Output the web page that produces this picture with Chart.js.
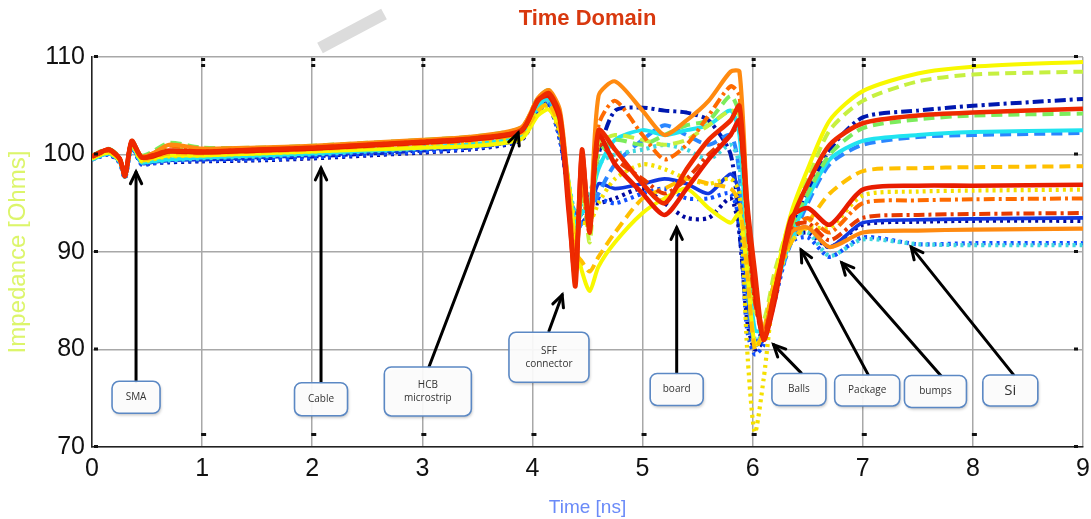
<!DOCTYPE html>
<html>
<head>
<meta charset="utf-8">
<script src="https://cdn.jsdelivr.net/npm/chart.js@4.4.1/dist/chart.umd.min.js"></script>
<style>
html,body{margin:0;padding:0;background:#fff;}
#wrap{width:1091px;height:519px;position:relative;}
</style>
</head>
<body>
<div id="wrap"><canvas id="c" width="1091" height="519"></canvas></div>
<script>
// ---- Data ----
const timeNs = [0,0.15,0.25,0.3,0.36,0.45,0.55,0.7,1.0,1.5,2.0,2.5,3.0,3.5,3.9,4.05,4.15,4.25,4.33,4.39,4.45,4.52,4.6,4.75,5.0,5.2,5.4,5.6,5.8,5.88,5.95,6.02,6.1,6.2,6.35,6.5,6.7,7.0,7.5,8.0,9.0];
const xTicks = [0,1,2,3,4,5,6,7,8,9];
const yTicks = [70,80,90,100,110];

const redSolidA = [99.8,100.5,99.6,97.8,101.4,99.7,99.9,100.4,100.3,100.5,100.7,101.0,101.3,101.7,102.5, 105.5,106.3,104,95,86.5,100.5,92, 102.5,100.5,97,95,98.5,101.5,103.5, 105,95,88,81,86, 93,97,101,103.2,104,104.3,104.7];
const redSolidB = [99.8,100.5,99.6,97.8,101.3,99.7,99.8,100.3,100.2,100.4,100.6,100.9,101.2,101.6,102.4, 105.6,106.0,103.5,94,87.5,100,92.5, 102,99,96,93.8,96.5,99.5,102, 103.5,94,86,81,85, 93.5,94.5,92.8,96.4,96.8,96.8,96.9];
const redDashDot = [99.8,100.4,99.6,97.8,101.3,99.7,99.9,100.3,100.3,100.5,100.7,101.0,101.3,101.7,102.5, 105.5,106.2,103.8,95,88,99,93, 101,99.5,97.5,96,97.5,100,102, 103,93,85,81.5,86, 92.5,93,91.2,93.5,93.8,93.9,94.0];
const orangeSolid = [99.8,100.5,99.6,97.9,101.3,99.8,100.1,101.0,100.6,100.7,100.9,101.2,101.5,101.9,102.8, 105.8,106.6,104.5,96,88,98,93, 106,107.5,104.5,102,103.5,105.5,108.5, 108.5,95,86,82,86, 92,92.5,90.5,92,92.2,92.3,92.4];
const orangeDashDot = [99.8,100.5,99.6,97.9,101.3,99.8,100.1,100.9,100.5,100.6,100.8,101.1,101.4,101.8,102.7, 105.7,106.5,104,95,88,97,92, 103,105.5,102,99.5,101,104,107, 106,94,85,82,86, 92,93.5,92,95,95.3,95.4,95.5];
const goldDashed = [99.7,100.3,99.5,97.9,101.2,99.5,99.7,100.1,100.1,100.3,100.5,100.8,101.1,101.5,102.2, 104.5,105.2,102.5,96,90,89,88, 89.5,92,95.5,96.5,97.5,97,96.5, 95,88,80,82,87, 91,93,96,98.3,98.6,98.7,98.8];
const yellowSolid = [99.6,100.2,99.4,97.9,101.1,99.4,99.6,99.9,99.9,100.1,100.3,100.5,100.7,100.9,101.6, 104.0,104.6,102.5,97,91,88,86, 88.5,91,94,95.5,96.5,94.5,93, 94,88,80.5,81.5,87, 94,98.5,103.5,106.5,108.3,109,109.5];
const yellowDotted = [99.6,100.2,99.4,97.8,101.0,99.3,99.5,99.8,99.9,100.1,100.3,100.6,100.9,101.3,102.0, 104.3,105,102,97,93,93,93, 95,97.5,99,98.5,97.5,97,97.5, 96,80,71.5,77,86, 91,92.5,92.5,95.8,96.2,96.3,96.4];
const limeDashed = [99.8,100.5,99.6,97.9,101.3,99.7,100.0,100.8,100.5,100.6,100.8,101.1,101.4,101.8,102.6, 105.5,106.3,103.5,95,89,97,91, 101,102,101.5,101,101.5,103,104.5, 104,92,84,83,88, 93.5,97.5,102.5,105.5,107.5,108.2,108.5];
const greenDashed = [99.9,100.6,99.7,97.9,101.4,99.9,100.3,101.2,100.7,100.7,100.9,101.2,101.5,101.9,102.8, 105.8,106.6,104,96,90,96,93, 100,101.5,101,102,103,103.5,106, 104,93,85,82,87, 92.5,96,100,102.7,103.6,104,104.2];
const cyanSolid = [99.5,100.1,99.3,97.7,100.9,99.2,99.3,99.5,99.7,99.9,100.1,100.4,100.7,101.1,101.9, 105,105.8,103,97,93,94,95, 98.5,101.5,102.5,102,102.5,103,104.5, 102,90,82,82,86, 91.5,95.5,99.5,101.4,102,102.3,102.5];
const cyanDotted = [99.5,100.1,99.3,97.7,100.9,99.2,99.3,99.4,99.6,99.8,100.0,100.3,100.6,101.0,101.8, 104.7,105.4,102.5,97,94,95,96, 99,100,100.5,101,100.5,99.5,101, 99,88,81,81.5,86, 91.5,92,89.6,91.3,90.8,90.7,90.7];
const blueDashed = [99.6,100.2,99.4,97.8,101.0,99.3,99.4,99.7,99.8,100.0,100.2,100.5,100.8,101.2,102.0, 104.8,105.4,102.5,96,92,93,94, 96,99,101.5,103,102,101,102, 98,86,80.5,82,86, 91,95,99,101,101.8,102,102.2];
const blueSolid = [99.5,100.1,99.3,97.7,100.8,99.1,99.2,99.4,99.5,99.7,99.9,100.2,100.5,100.9,101.8, 104.6,105.2,102,96,92,93,94, 97,96.5,97,97.5,97,96,98, 96,86,80.5,81,86, 92,92.5,90.5,93,93.3,93.4,93.5];
const blueDotted = [99.5,100.0,99.2,97.6,100.8,99.0,99.1,99.3,99.4,99.5,99.7,100.0,100.3,100.7,101.6, 104.5,105,101.5,96,94,95,96, 95.5,95,96,96.5,95.5,95.5,96, 93,82,79.5,80.5,85, 91,91.5,89.5,91.5,90.8,90.9,90.9];
const navyDashDot = [99.6,100.1,99.3,97.8,100.9,99.2,99.3,99.6,99.5,99.6,99.8,100.1,100.4,100.8,101.7, 104.8,105.2,102,96,93,94,95, 100,104.5,104.8,104.5,104.3,103.5,100, 92,84,81,82,87, 92,96,100.5,103.8,104.5,105,105.7];
const navyDotted = [99.5,100.0,99.2,97.6,100.8,99.0,99.1,99.2,99.3,99.4,99.6,99.9,100.2,100.6,101.5, 104.5,105,101.5,96,93,94,95, 95,95.5,96.5,95,93.5,93.5,95.5, 92,83,80,81,86, 91.5,92,90.5,92.8,93.1,93.2,93.2];

// Annotation labels (data coordinates: box centre, arrow start, arrow tip)
const labelTexts = ["SMA","Cable","HCB\nmicrostrip","SFF\nconnector","board","Balls","Package","bumps","Si"];
const labelBoxX = [0.40,2.08,3.05,4.15,5.31,6.42,7.04,7.66,8.34];
const labelBoxY = [75.1,74.9,75.7,79.2,75.9,75.9,75.8,75.7,75.8];
const arrowFromX = [0.40,2.08,3.06,4.15,5.31,6.44,7.05,7.71,8.37];
const arrowFromY = [76.7,76.7,78.2,81.9,77.6,77.6,77.4,77.3,77.4];
const arrowToX = [0.40,2.08,3.87,4.27,5.31,6.19,6.44,6.81,7.44];
const arrowToY = [98.2,98.6,102.2,85.6,92.5,80.5,90.2,88.9,90.5];

// ---- Styles ----
const DOT=[3,4], DASH=[11,6], DASHDOT=[11,4,3,4];
const seriesDefs = [
  ['redSolidA', redSolidA, '#ee2a00', null, 4.6, 0],
  ['redSolidB', redSolidB, '#e81c00', null, 4.6, 0],
  ['redDashDot', redDashDot, '#e83a00', DASHDOT, 4, 1],
  ['orangeSolid', orangeSolid, '#ff8a10', null, 4.2, 1],
  ['orangeDashDot', orangeDashDot, '#ff6a00', DASHDOT, 4, 1],
  ['goldDashed', goldDashed, '#ffc000', DASH, 4, 2],
  ['yellowSolid', yellowSolid, '#f8f800', null, 4, 2],
  ['yellowDotted', yellowDotted, '#f5e000', DOT, 4.2, 2],
  ['limeDashed', limeDashed, '#c6f040', DASH, 4, 3],
  ['greenDashed', greenDashed, '#7cec5c', DASH, 4, 3],
  ['cyanSolid', cyanSolid, '#20e4f0', null, 4, 3],
  ['cyanDotted', cyanDotted, '#40d8e0', DOT, 4.2, 3],
  ['blueDashed', blueDashed, '#2a86ff', DASH, 4, 4],
  ['blueSolid', blueSolid, '#1238e0', null, 3.6, 4],
  ['blueDotted', blueDotted, '#1050ff', DOT, 4.2, 4],
  ['navyDashDot', navyDashDot, '#0018b0', DASHDOT, 4, 4],
  ['navyDotted', navyDotted, '#0008a0', DOT, 4.2, 4]
];

const datasets = seriesDefs.map(([name, vals, color, dash, w, ord]) => ({
  label: name,
  data: timeNs.map((t,i)=>({x:t, y:vals[i]})),
  borderColor: color,
  borderWidth: w,
  borderDash: dash || [],
  pointRadius: 0,
  tension: 0.25,
  fill: false,
  order: ord,
  borderCapStyle: 'butt',
  borderJoinStyle: 'round'
}));

const decorPlugin = {
  id: 'decor',
  beforeDraw(chart){
    const ctx = chart.ctx;
    ctx.save();
    ctx.strokeStyle = '#dcdcdc';
    ctx.lineWidth = 12;
    ctx.beginPath();
    ctx.moveTo(320,48); ctx.lineTo(384,14);
    ctx.stroke();
    ctx.restore();
  },
  afterDraw(chart){
    const {ctx, chartArea, scales:{x,y}} = chart;
    ctx.save();
    ctx.fillStyle = '#111';
    xTicks.forEach(t=>{
      const px = x.getPixelForValue(t);
      if (t>0 && t<9){
        ctx.fillRect(px-1, chartArea.top+1, 4, 3);
        ctx.fillRect(px-1, chartArea.top+7, 4, 3);
        ctx.fillRect(px-1, chartArea.bottom-14, 5, 3);
      }
    });
    yTicks.forEach(v=>{
      const py = y.getPixelForValue(v);
      ctx.fillRect(chartArea.right-9, py-2, 4, 3);
      ctx.fillRect(chartArea.left+2, py-2, 4, 3);
    });
    labelTexts.forEach((txt,i)=>{
      const fx = x.getPixelForValue(arrowFromX[i]), fy = y.getPixelForValue(arrowFromY[i]);
      const tx = x.getPixelForValue(arrowToX[i]), ty = y.getPixelForValue(arrowToY[i]);
      ctx.strokeStyle = '#000';
      ctx.lineWidth = 3;
      ctx.lineCap = 'round';
      ctx.beginPath(); ctx.moveTo(fx,fy); ctx.lineTo(tx,ty); ctx.stroke();
      const ang = Math.atan2(ty-fy, tx-fx);
      const hl = 13, ha = 0.45;
      ctx.beginPath();
      ctx.moveTo(tx - hl*Math.cos(ang-ha), ty - hl*Math.sin(ang-ha));
      ctx.lineTo(tx,ty);
      ctx.lineTo(tx - hl*Math.cos(ang+ha), ty - hl*Math.sin(ang+ha));
      ctx.stroke();
    });
    const sizes = [[48,32],[53,33],[87,49],[80,50],[53,32],[54,32],[65,31],[62,32],[55,31]];
    labelTexts.forEach((txt,i)=>{
      const cx = x.getPixelForValue(labelBoxX[i]), cy = y.getPixelForValue(labelBoxY[i]);
      const [w,h] = sizes[i];
      const bx = cx-w/2, by = cy-h/2, r = 7;
      ctx.save();
      ctx.shadowColor = 'rgba(0,0,0,0.25)';
      ctx.shadowBlur = 3; ctx.shadowOffsetX = 1; ctx.shadowOffsetY = 2;
      ctx.fillStyle = 'rgba(255,255,255,0.92)';
      ctx.beginPath();
      ctx.roundRect(bx,by,w,h,r);
      ctx.fill();
      ctx.restore();
      ctx.strokeStyle = '#5b88c4';
      ctx.lineWidth = 1.6;
      ctx.beginPath(); ctx.roundRect(bx,by,w,h,r); ctx.stroke();
      ctx.fillStyle = '#333';
      ctx.textAlign = 'center'; ctx.textBaseline = 'middle';
      const lines = txt.split('\n');
      const fs = txt==='Si' ? 15 : 10;
      ctx.font = fs + 'px "Open Sans", sans-serif';
      lines.forEach((ln,k)=>{
        ctx.fillText(ln, cx, cy + (k-(lines.length-1)/2)*13);
      });
    });
    ctx.restore();
  }
};

new Chart(document.getElementById('c'), {
  type: 'line',
  data: { datasets },
  plugins: [decorPlugin],
  options: {
    responsive: false,
    animation: false,
    layout: { padding: { left: 0, right: 8, top: 0, bottom: 0 } },
    plugins: {
      legend: { display: false },
      tooltip: { enabled: false },
      title: {
        display: true, text: 'Time Domain', color: '#d8380e',
        font: { family: 'Liberation Sans, Arial, sans-serif', size: 22, weight: 'bold' },
        padding: { top: 6, bottom: 24.6 }, fullSize: false
      }
    },
    scales: {
      x: {
        type: 'linear', min: 0, max: 9,
        afterBuildTicks(s){ s.ticks = xTicks.map(v=>({value:v})); },
        afterFit(s){ s.height = 72; s.paddingRight = 0; s.paddingLeft = 0; },
        ticks: { color: '#111', font: { family: 'Liberation Sans, Arial, sans-serif', size: 25 }, padding: 7, maxRotation: 0 },
        grid: { color: '#a8a8a8', lineWidth: 1.5, drawTicks: false },
        border: { color: '#222', width: 1.5 },
        title: { display: true, text: 'Time [ns]', color: '#6a8af8', font: { family: 'Liberation Sans, Arial, sans-serif', size: 19 }, padding: { top: 0, bottom: 0 } }
      },
      y: {
        type: 'linear', min: 70, max: 110,
        afterBuildTicks(s){ s.ticks = yTicks.map(v=>({value:v})); },
        afterFit(s){ s.width = 92; },
        ticks: { color: '#111', font: { family: 'Liberation Sans, Arial, sans-serif', size: 25 }, padding: 7 },
        grid: { color: '#a8a8a8', lineWidth: 1.5, drawTicks: false },
        border: { color: '#222', width: 1.5 },
        title: { display: true, text: 'Impedance [Ohms]', color: '#dcf56a', font: { family: 'Liberation Sans, Arial, sans-serif', size: 24 }, padding: { top: 4, bottom: 0 } }
      }
    }
  }
});
</script>
</body>
</html>
